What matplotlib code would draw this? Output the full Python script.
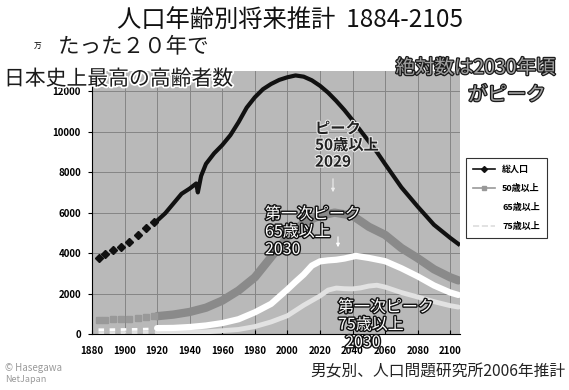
import matplotlib
matplotlib.use("Agg")
import matplotlib.pyplot as plt
import matplotlib.patheffects as pe
from matplotlib.lines import Line2D

plt.rcParams['font.family'] = ['Noto Sans CJK JP', 'DejaVu Sans']

# total population (万人)
early_years = [1884, 1888, 1893, 1898, 1903, 1908, 1913, 1918]
early_total = [3750, 3950, 4150, 4320, 4560, 4890, 5240, 5560]
early_50 = [700, 710, 720, 730, 750, 780, 820, 870]
early_65 = [210, 210, 215, 220, 225, 230, 240, 250]
early_75 = [70, 70, 72, 74, 76, 78, 80, 82]

years_total = [1920, 1925, 1930, 1935, 1940, 1944, 1945, 1947, 1950, 1955, 1960, 1965,
               1970, 1975, 1980, 1985, 1990, 1995, 2000, 2005, 2010, 2015, 2020, 2025,
               2030, 2035, 2040, 2045, 2050, 2055, 2060, 2070, 2080, 2090, 2100, 2105]
total = [5600, 5970, 6450, 6930, 7190, 7440, 7000, 7810, 8410, 8930, 9340, 9830,
         10470, 11190, 11700, 12100, 12360, 12560, 12690, 12780, 12720, 12540, 12270, 11930,
         11520, 11070, 10570, 10040, 9520, 8990, 8400, 7250, 6300, 5400, 4750, 4450]

years_50 = [1920, 1930, 1940, 1950, 1960, 1970, 1980, 1990, 2000, 2010, 2020, 2029,
            2040, 2050, 2060, 2070, 2080, 2090, 2100, 2105]
over50 = [880, 960, 1090, 1300, 1650, 2150, 2800, 3800, 4800, 5500, 5850, 6000,
          5850, 5300, 4900, 4250, 3750, 3200, 2800, 2650]

years_65 = [1920, 1930, 1940, 1950, 1960, 1970, 1980, 1990, 2000, 2005, 2010, 2015,
            2020, 2025, 2030, 2035, 2042, 2050, 2060, 2070, 2080, 2090, 2100, 2105]
over65 = [290, 300, 345, 420, 540, 730, 1070, 1490, 2200, 2580, 2940, 3380,
          3590, 3640, 3670, 3730, 3860, 3760, 3600, 3250, 2850, 2400, 2050, 1930]

years_75 = [1920, 1930, 1940, 1950, 1960, 1970, 1980, 1990, 2000, 2005, 2010, 2015, 2020,
            2025, 2030, 2035, 2040, 2045, 2050, 2055, 2060, 2070, 2080, 2090, 2100, 2105]
over75 = [80, 90, 100, 107, 164, 224, 366, 597, 900, 1160, 1420, 1650, 1880,
          2170, 2270, 2240, 2230, 2280, 2370, 2410, 2320, 2050, 1830, 1600, 1400, 1330]

series_names = ['総人口', '50歳以上', '65歳以上', '75歳以上']
xticks = list(range(1880, 2101, 20))
yticks = list(range(0, 12001, 2000))

W, H = 569, 390
def fx(x):
    return x / W
def fy(y):
    return 1 - y / H

fig = plt.figure(figsize=(W / 100, H / 100), dpi=100)
ax = fig.add_axes([fx(92), fy(334), (460 - 92) / W, (334 - 71) / H])
ax.set_facecolor('#b9b9b9')

ax.plot(years_75, over75, color='#e2e2e2', lw=3.5, solid_capstyle='round', zorder=3)
ax.plot(early_years, early_75, color='#e2e2e2', lw=2, ls=(0, (2, 2)), zorder=3)
ax.plot(years_65, over65, color='white', lw=4.5, solid_capstyle='round', zorder=4)
ax.plot(early_years, early_65, color='white', lw=2, ls=(0, (2, 2)), zorder=4)
ax.plot(years_50, over50, color='#8a8a8a', lw=6, solid_capstyle='round', zorder=5)
ax.plot(early_years, early_50, 's', color='#999999', ms=5, zorder=5)
ax.plot(years_total, total, color='#111111', lw=3, zorder=6)
ax.plot(early_years, early_total, 'D', color='#111111', ms=4, zorder=6)

ax.set_xlim(1880, 2106)
ax.set_ylim(0, 13000)
ax.set_xticks(xticks)
ax.set_yticks(yticks)
ax.grid(True, color='#858585', lw=0.7)
ax.set_axisbelow(True)
for s in ['top', 'right']:
    ax.spines[s].set_visible(False)
ax.spines['left'].set_color('black')
ax.spines['bottom'].set_color('black')
ax.tick_params(axis='x', direction='in', length=3, pad=9, labelsize=7)
ax.tick_params(axis='y', direction='out', length=3, pad=5, labelsize=7)
for lab in ax.get_xticklabels() + ax.get_yticklabels():
    lab.set_fontweight('bold')

# legend
handles = [
    Line2D([], [], color='#111111', lw=1.2, marker='D', ms=3),
    Line2D([], [], color='#999999', lw=1.2, marker='s', ms=3),
    Line2D([], [], color='white', lw=1.2),
    Line2D([], [], color='#dddddd', lw=1.2, ls='--'),
]
leg = ax.legend(handles, series_names, loc='upper left',
                bbox_to_anchor=(fx(466), fy(158)), bbox_transform=fig.transFigure,
                fontsize=6.5, frameon=True, fancybox=False, edgecolor='black',
                handlelength=2.4, labelspacing=1.1, borderpad=0.8, borderaxespad=0)
leg.get_frame().set_linewidth(0.8)
for t in leg.get_texts():
    t.set_fontweight('bold')

# titles and notes
fig.text(fx(290), fy(20), '人口年齢別将来推計  1884-2105', ha='center', va='center',
         fontsize=17.5, color='#111111')
fig.text(fx(38), fy(47), '万', ha='center', va='center', fontsize=5.5)

halo_w = [pe.withStroke(linewidth=2.5, foreground='white')]
fig.text(fx(58), fy(47), 'たった２０年で', ha='left', va='center', fontsize=15.5,
         color='#1a1a1a', path_effects=halo_w)
fig.text(fx(4), fy(79), '日本史上最高の高齢者数', ha='left', va='center', fontsize=15,
         color='#1a1a1a', path_effects=halo_w)

emb = [pe.withStroke(linewidth=1.8, foreground='#1a1a1a')]
fig.text(fx(556), fy(68), '絶対数は2030年頃', ha='right', va='center', fontsize=14,
         color='#a0a0a0', path_effects=emb)
fig.text(fx(546), fy(95), 'がピーク', ha='right', va='center', fontsize=14,
         color='#a0a0a0', path_effects=emb)

gray_txt = [pe.withStroke(linewidth=1.5, foreground='#eeeeee')]
fig.text(fx(315), fy(145), 'ピーク\n50歳以上\n2029', ha='left', va='center',
         fontsize=11, color='#222222', weight='bold', linespacing=1.05,
         path_effects=gray_txt)

white_txt = [pe.withStroke(linewidth=2, foreground='#111111')]
fig.text(fx(265), fy(232), '第一次ピーク\n65歳以上\n2030', ha='left', va='center',
         fontsize=11.5, color='white', linespacing=1.05, path_effects=white_txt)
fig.text(fx(338), fy(325), '第一次ピーク\n75歳以上\n  2030', ha='left', va='center',
         fontsize=11.5, color='white', linespacing=1.05, path_effects=white_txt)

ax.annotate('', xy=(fx(333), fy(195)), xytext=(fx(333), fy(176)), xycoords='figure fraction',
            textcoords='figure fraction',
            arrowprops=dict(arrowstyle='-|>', color='#eeeeee', lw=0.8, mutation_scale=5))
ax.annotate('', xy=(fx(338), fy(250)), xytext=(fx(338), fy(234)), xycoords='figure fraction',
            textcoords='figure fraction',
            arrowprops=dict(arrowstyle='-|>', color='white', lw=0.8, mutation_scale=5))

fig.text(fx(565), fy(372), '男女別、人口問題研究所2006年推計', ha='right', va='center',
         fontsize=11.3, color='#222222')
fig.text(fx(5), fy(368), '© Hasegawa', ha='left', va='center', fontsize=7,
         color='#9a9a9a', style='italic')
fig.text(fx(5), fy(380), 'NetJapan', ha='left', va='center', fontsize=6.5,
         color='#9a9a9a', style='italic')

fig.savefig('out.png', dpi=100)
